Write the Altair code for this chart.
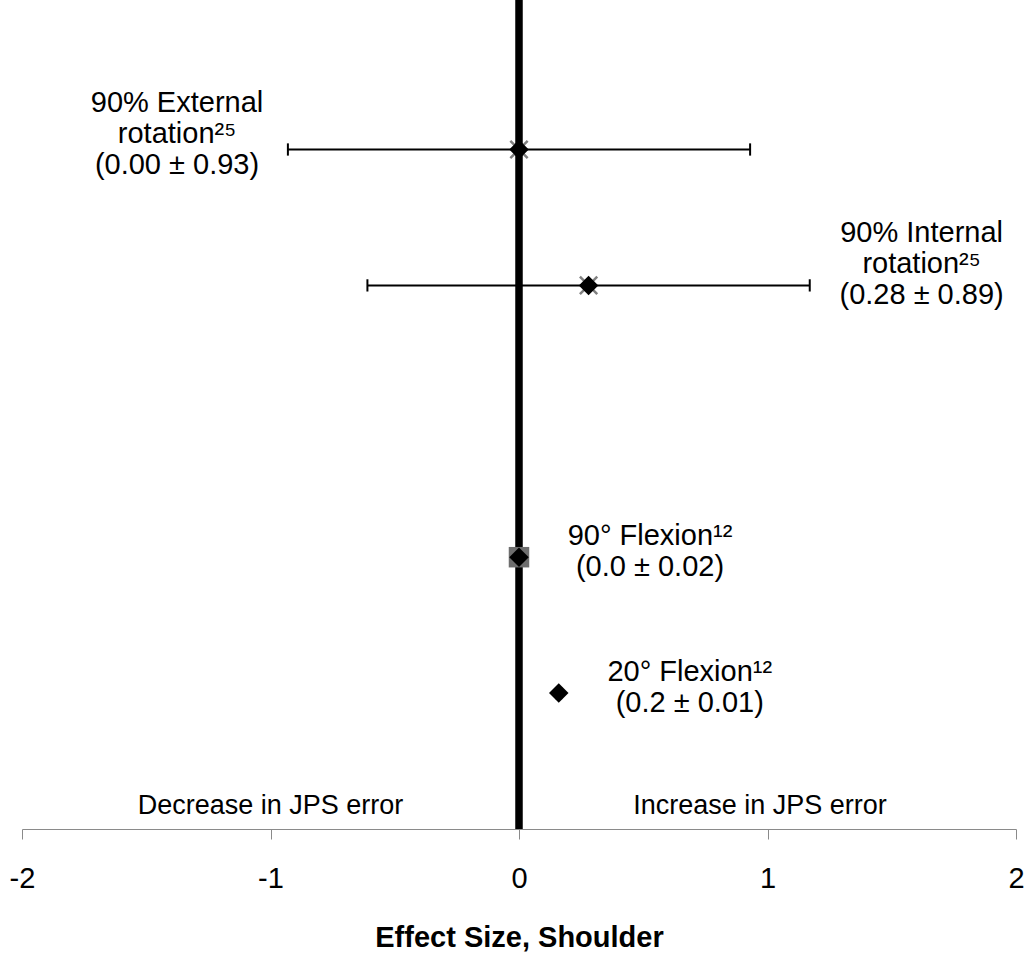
import altair as alt
import pandas as pd

# ---- data ----
labels = [
    "90% External\nrotation²⁵\n(0.00 ± 0.93)",
    "90% Internal\nrotation²⁵\n(0.28 ± 0.89)",
    "90° Flexion¹²\n(0.0 ± 0.02)",
    "20° Flexion¹²\n(0.2 ± 0.01)",
]
effect = [0.00, 0.28, 0.00, 0.16]
ci_half = [0.93, 0.89, 0.02, 0.01]
row = [5, 4, 2, 1]

side_text = ["Decrease in JPS error", "Increase in JPS error"]
side_x = [-1.0, 0.97]

tick_values = [-2, -1, 0, 1, 2]

# ---- table ----
df = pd.DataFrame({"label": labels, "effect": effect, "half": ci_half, "row": row})
df["lo"] = df["effect"] - df["half"]
df["hi"] = df["effect"] + df["half"]
df["idx"] = range(len(df))
side = pd.DataFrame({"text": side_text, "effect": side_x})

TITLE = "Effect Size, Shoulder"
xscale = alt.Scale(domain=[-2, 2], nice=False, zero=False)
yscale = alt.Scale(domain=[0, 6.1], nice=False, zero=False)
xaxis = alt.Axis(
    values=tick_values, grid=False, domainColor="#8a8a8a", tickColor="#8a8a8a",
    tickSize=10, domainWidth=1, tickWidth=1, labelFontSize=29, labelColor="black",
    labelPadding=25, labelFlush=False, labelOverlap=False,
    labelExpr="'' + datum.value",
    titleFontSize=29, titleFontWeight="bold", titleColor="black", titlePadding=30,
)

def X(field):
    return alt.X(field, type="quantitative", scale=xscale, axis=xaxis, title=TITLE)

Y = alt.Y("row:Q", scale=yscale, axis=None)

base = alt.Chart(df)

zero_line = alt.Chart(side).mark_rule(color="black", strokeWidth=7).encode(
    x=alt.datum(0, type="quantitative", scale=xscale, axis=xaxis, title=TITLE)
)

bars = base.mark_rule(color="black", strokeWidth=2).encode(x=X("lo"), x2="hi", y=Y)
cap_lo = base.mark_point(shape="M0,-1L0,1", size=150, filled=False, color="black",
                         strokeWidth=2, opacity=1).encode(x=X("lo"), y=Y)
cap_hi = base.mark_point(shape="M0,-1L0,1", size=150, filled=False, color="black",
                         strokeWidth=2, opacity=1).encode(x=X("hi"), y=Y)

gray_x = base.transform_filter(alt.datum.row >= 4).mark_point(
    shape="M-1,-1L1,1M1,-1L-1,1", size=300, filled=False, color="#808080",
    strokeWidth=2.5, opacity=1).encode(x=X("effect"), y=Y)
gray_sq = base.transform_filter(alt.datum.row == 2).mark_point(
    shape="square", size=420, filled=True, color="#6e6e6e", opacity=1
).encode(x=X("effect"), y=Y)
diamonds = base.mark_point(shape="diamond", size=380, filled=True, color="black",
                           opacity=1).encode(x=X("effect"), y=Y)

# label offsets (style) relative to each point: first-line centre
offsets = [(-342, -46), (333, -52), (131, -21), (131, -21)]
label_layers = []
for i, (dx, dy) in enumerate(offsets):
    label_layers.append(
        base.transform_filter(alt.datum.idx == i).mark_text(
            fontSize=29, lineBreak="\n", lineHeight=31, align="center",
            baseline="middle", dx=dx, dy=dy, color="black"
        ).encode(x=X("effect"), y=Y, text="label:N")
    )

side_layer = alt.Chart(side).mark_text(
    fontSize=27, align="center", baseline="middle", color="black"
).encode(x=X("effect"), y=alt.value(806), text="text:N")

chart = alt.layer(
    zero_line, bars, cap_lo, cap_hi, gray_x, gray_sq, diamonds, side_layer, *label_layers
).properties(
    width=994, height=829,
    autosize=alt.AutoSizeParams(type="none"),
    padding={"left": 22, "right": 11, "top": 0, "bottom": 126},
).configure(font="Liberation Sans").configure_view(stroke=None)

chart.save("out.html", embed_options={"renderer": "svg", "actions": False})
